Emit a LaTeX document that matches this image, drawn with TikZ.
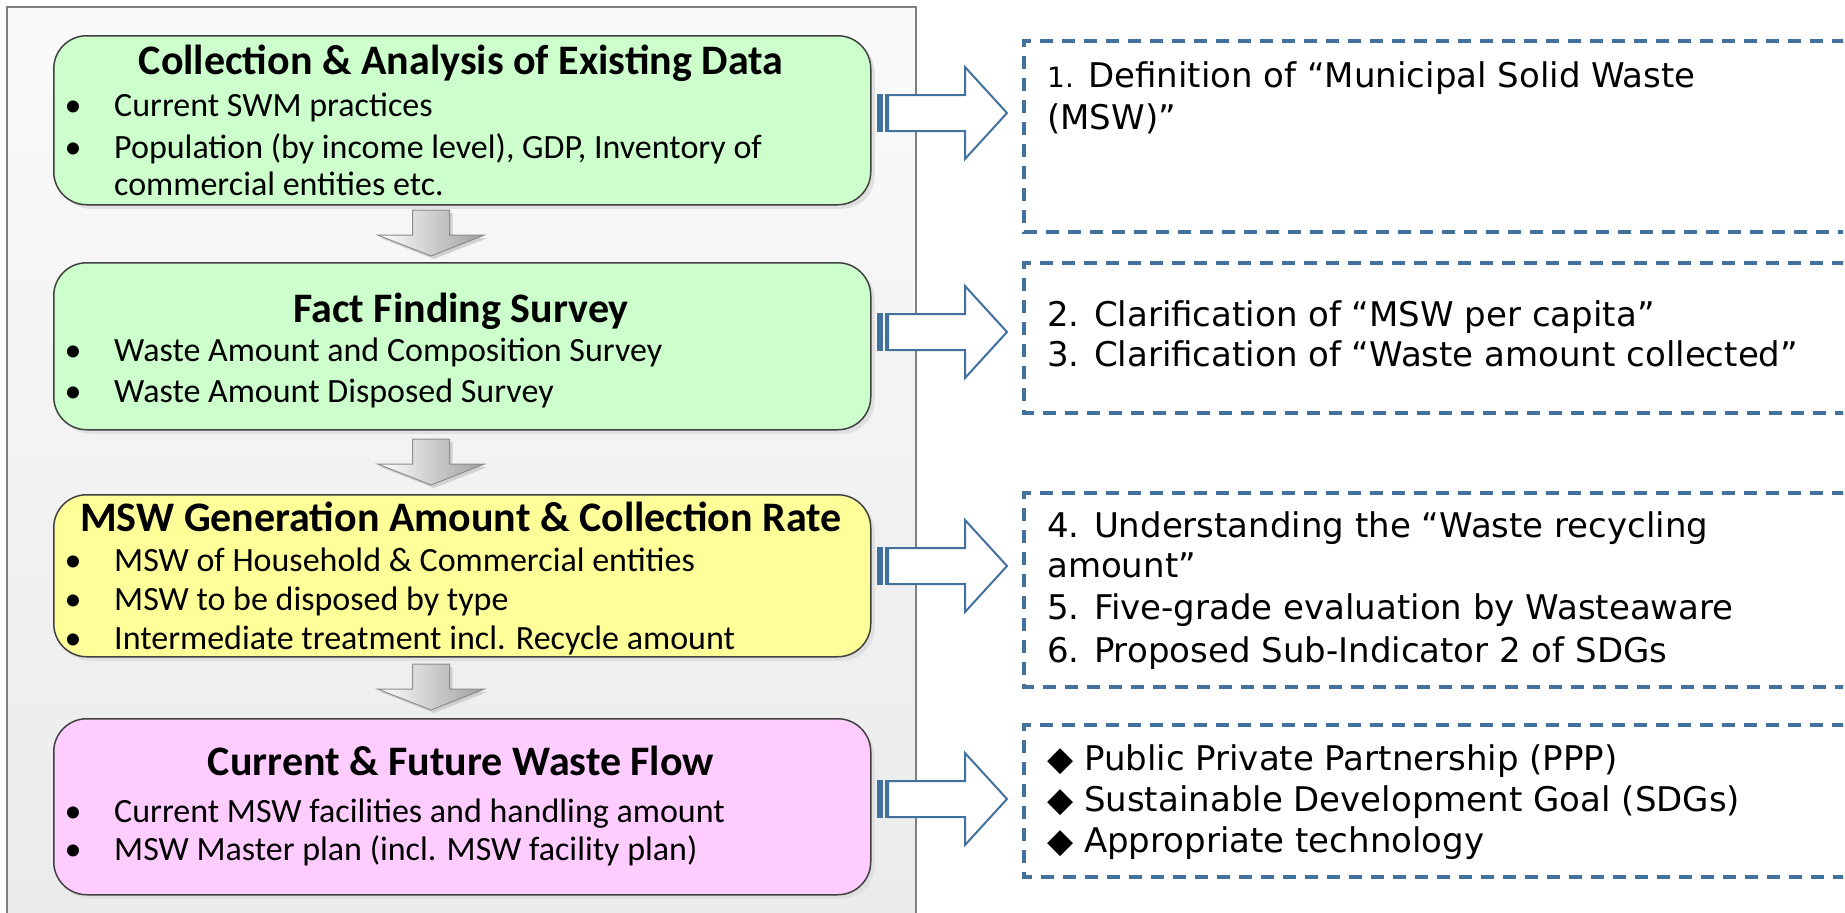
\documentclass[tikz,border=0pt]{standalone}
\usepackage{fontspec}
\setmainfont{Carlito}
\newfontfamily\rfont{DejaVu Sans}
\usetikzlibrary{shadows}
\definecolor{dblue}{RGB}{65,113,156}
\definecolor{bgreen}{RGB}{204,255,204}
\definecolor{byellow}{RGB}{255,255,153}
\definecolor{bpink}{RGB}{255,204,255}
\definecolor{bline}{RGB}{64,64,64}
\tikzset{
  panel/.style={draw=black!50, line width=1.5pt, top color=black!2, bottom color=black!8},
  flowbox/.style={draw=bline, line width=1.5pt, rounded corners=33pt, anchor=north west,
     minimum width=817pt, drop shadow={shadow xshift=4pt, shadow yshift=-4pt, fill=black!12, opacity=1}},
  ttl/.style={font=\fontsize{42}{50}\selectfont\bfseries, anchor=base, inner sep=0pt},
  bul/.style={font=\fontsize{34}{40}\selectfont, anchor=base west, inner sep=0pt},
  dot/.style={font=\fontsize{34}{40}\selectfont, anchor=base, inner sep=0pt},
  rtx/.style={font=\rfont\fontsize{34}{40}\selectfont, anchor=base west, inner sep=0pt},
  dbox/.style={draw=dblue, line width=3.5pt, dash pattern=on 13pt off 9pt},
  darr/.style={draw=black!45, line width=1pt, left color=white, right color=black!38,
     drop shadow={shadow xshift=3pt, shadow yshift=-3pt, fill=black!18, opacity=1}},
  rarr/.style={draw=dblue, line width=2pt, fill=white, line join=miter},
}
\newcommand\darrowat[2]{% centre x, top y
  \path[darr] (#1-18.5,#2) -- (#1+18.5,#2) -- (#1+18.5,#2+25) -- (#1+53.5,#2+25) -- (#1,#2+46)
     -- (#1-53.5,#2+25) -- (#1-18.5,#2+25) -- cycle;}
\newcommand\rarrowat[1]{% centre y
  \fill[dblue] (877,#1-19) rectangle (882.5,#1+19);
  \fill[dblue] (884.5,#1-19) rectangle (888,#1+19);
  \path[rarr] (888,#1-18) -- (965,#1-18) -- (965,#1-46) -- (1007,#1) -- (965,#1+46)
     -- (965,#1+18) -- (888,#1+18) -- cycle;}
\newcommand\dashedbox[3]{% name, top, bottom
  \coordinate (#1) at (1024,#2);
  \draw[dbox] (1845,#2) -- (#1) -- (1024,#3) -- (1845,#3);}
\begin{document}
\begin{tikzpicture}[x=1pt,y=-1pt]
\useasboundingbox (0,0) rectangle (1845,913);
\path[panel] (7,7) rectangle (916,940);
% left boxes
\node[flowbox, fill=bgreen, minimum height=169pt] (b1) at (53,35) {};
\node[flowbox, fill=bgreen, minimum height=167pt] (b2) at (53,262) {};
\node[flowbox, fill=byellow, minimum height=162pt] (b3) at (53,494) {};
\node[flowbox, fill=bpink, minimum height=176pt] (b4) at (53,718) {};
% down arrows
\darrowat{431}{210}
\darrowat{431}{439}
\darrowat{431}{664}
% titles
\node[ttl] (t1) at (461,74) {Collection \& Analysis of Existing Data};
\node[ttl] (t2) at (461,322) {Fact Finding Survey};
\node[ttl] (t3) at (461,531) {MSW Generation Amount \& Collection Rate};
\node[ttl] (t4) at (461,775) {Current \& Future Waste Flow};
% bullets box 1
\node[dot] (d11) at (73,116) {•};
\node[bul] (l11) at (114,116) {Current SWM practices};
\node[dot] (d12) at (73,158) {•};
\node[bul] (l12) at (114,158) {Population (by income level), GDP, Inventory of};
\node[bul] (l13) at (114,195) {commercial entities etc.};
% box 2
\node[dot] (d21) at (73,361) {•};
\node[bul] (l21) at (114,361) {Waste Amount and Composition Survey};
\node[dot] (d22) at (73,402) {•};
\node[bul] (l22) at (114,402) {Waste Amount Disposed Survey};
% box 3
\node[dot] (d31) at (73,571) {•};
\node[bul] (l31) at (114,571) {MSW of Household \& Commercial entities};
\node[dot] (d32) at (73,610) {•};
\node[bul] (l32) at (114,610) {MSW to be disposed by type};
\node[dot] (d33) at (73,649) {•};
\node[bul] (l33) at (114,649) {Intermediate treatment incl. Recycle amount};
% box 4
\node[dot] (d41) at (73,822) {•};
\node[bul] (l41) at (114,822) {Current MSW facilities and handling amount};
\node[dot] (d42) at (73,860) {•};
\node[bul] (l42) at (114,860) {MSW Master plan (incl. MSW facility plan)};
% right dashed boxes (open to the right)
\begin{scope}
\clip (0,0) rectangle (1843,913);
\dashedbox{rA}{41}{232}
\dashedbox{rB}{263}{413}
\dashedbox{rC}{493}{687}
\dashedbox{rD}{725}{877}
\end{scope}
% right arrows
\rarrowat{113}
\rarrowat{332}
\rarrowat{566}
\rarrowat{799}
% right texts
\node[rtx] (a1) at (1047,87) {{\fontsize{28}{30}\selectfont 1.} Definition of “Municipal Solid Waste};
\node[rtx] (a2) at (1047,129) {(MSW)”};
\node[rtx] (c1) at (1047,326) {2. Clarification of “MSW per capita”};
\node[rtx] (c2) at (1047,366) {3. Clarification of “Waste amount collected”};
\node[rtx] (e1) at (1047,537) {4. Understanding the “Waste recycling};
\node[rtx] (e2) at (1047,577) {amount”};
\node[rtx] (e3) at (1047,619) {5. Five-grade evaluation by Wasteaware};
\node[rtx] (e4) at (1047,662) {6. Proposed Sub-Indicator 2 of SDGs};
\node[rtx] (g1) at (1047,770) {◆ Public Private Partnership (PPP)};
\node[rtx] (g2) at (1047,811) {◆ Sustainable Development Goal (SDGs)};
\node[rtx] (g3) at (1047,852) {◆ Appropriate technology};
\end{tikzpicture}
\end{document}
